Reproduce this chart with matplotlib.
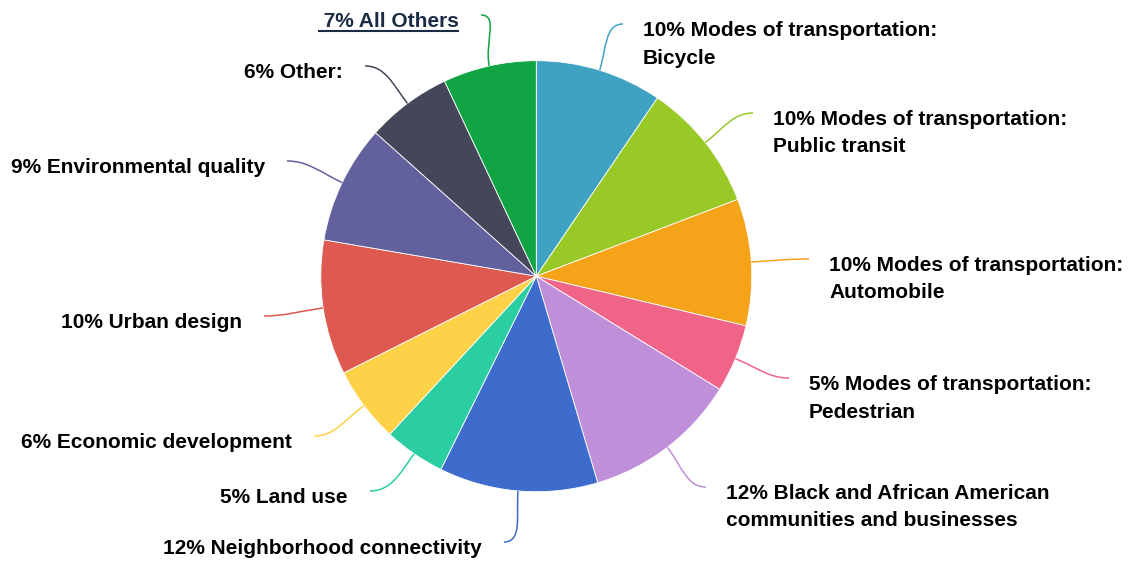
import numpy as np
import matplotlib.pyplot as plt
from matplotlib.path import Path
from matplotlib.patches import PathPatch

# slice data, clockwise from 12 o'clock
labels = [
    "Modes of transportation:\nBicycle",
    "Modes of transportation:\nPublic transit",
    "Modes of transportation:\nAutomobile",
    "Modes of transportation:\nPedestrian",
    "Black and African American\ncommunities and businesses",
    "Neighborhood connectivity",
    "Land use",
    "Economic development",
    "Urban design",
    "Environmental quality",
    "Other:",
    "All Others",
]
values = [9.5, 9.7, 9.5, 5.1, 11.6, 11.9, 4.6, 5.7, 10.1, 8.9, 6.4, 7.0]
colors = ["#3fa2c3", "#98c926", "#f5a41a", "#f06488", "#bf8fd9", "#3e6ccc",
          "#2bcea2", "#fdd249", "#de5a50", "#62609d", "#434759", "#11a444"]

# where each connector ends next to its label (pixels, y down)
anchor_x = [623, 753, 809, 789, 706, 504, 370, 314, 264, 287, 365, 481]
anchor_y = [24, 113, 259, 378, 487, 542, 491, 436, 316, 161, 66, 15]

W, H = 1128, 562
cx, cy, r = 536.3, 276.2, 215.5
fs = 15
plt.rcParams['font.family'] = ['Liberation Sans', 'DejaVu Sans']

fig = plt.figure(figsize=(W / 100, H / 100), dpi=100)
ax = fig.add_axes([0, 0, 1, 1])

# y axis is inverted below, so counterclock in data = clockwise on screen
ax.pie(values, colors=colors, startangle=-90, counterclock=True,
       center=(cx, cy), radius=r,
       wedgeprops=dict(edgecolor="white", linewidth=0.6))
ax.set_xlim(0, W)
ax.set_ylim(H, 0)
ax.set_aspect("equal")
ax.axis("off")

total = sum(values)
start = 0.0
for i, v in enumerate(values):
    mid = np.deg2rad((start + v / 2) / total * 360)
    start += v
    u = np.array([np.sin(mid), -np.cos(mid)])
    t = np.array([cx, cy]) + u * r
    e = np.array([anchor_x[i], anchor_y[i]], dtype=float)
    right = e[0] > cx
    d = np.hypot(*(e - t))
    c1 = t + u * d * 0.45
    c2 = e + np.array([-1 if right else 1, 0]) * d * 0.35
    path = Path([t, c1, c2, e], [Path.MOVETO, Path.CURVE4, Path.CURVE4, Path.CURVE4])
    ax.add_patch(PathPatch(path, facecolor="none", edgecolor=colors[i], lw=1.1))

    pct = f"{round(v / total * 100)}%"
    lines = labels[i].split("\n")
    lines[0] = pct + " " + lines[0]
    tx = e[0] + 20 if right else e[0] - 22
    ha = "left" if right else "right"
    is_others = labels[i] == "All Others"
    col = "#1c2b45" if is_others else "#000000"
    if is_others:
        lines[0] = " " + lines[0]
    for k, line in enumerate(lines):
        txt = ax.text(tx, e[1] + 12 + k * 27.5, line, ha=ha, va="baseline",
                      fontsize=fs, fontweight="bold", color=col)
    if is_others:
        fig.canvas.draw()
        bb = txt.get_window_extent().transformed(ax.transData.inverted())
        ax.plot([bb.x0, bb.x1], [e[1] + 15.5, e[1] + 15.5], color=col, lw=1.5,
                solid_capstyle="butt")

fig.savefig("out.png", dpi=100)
